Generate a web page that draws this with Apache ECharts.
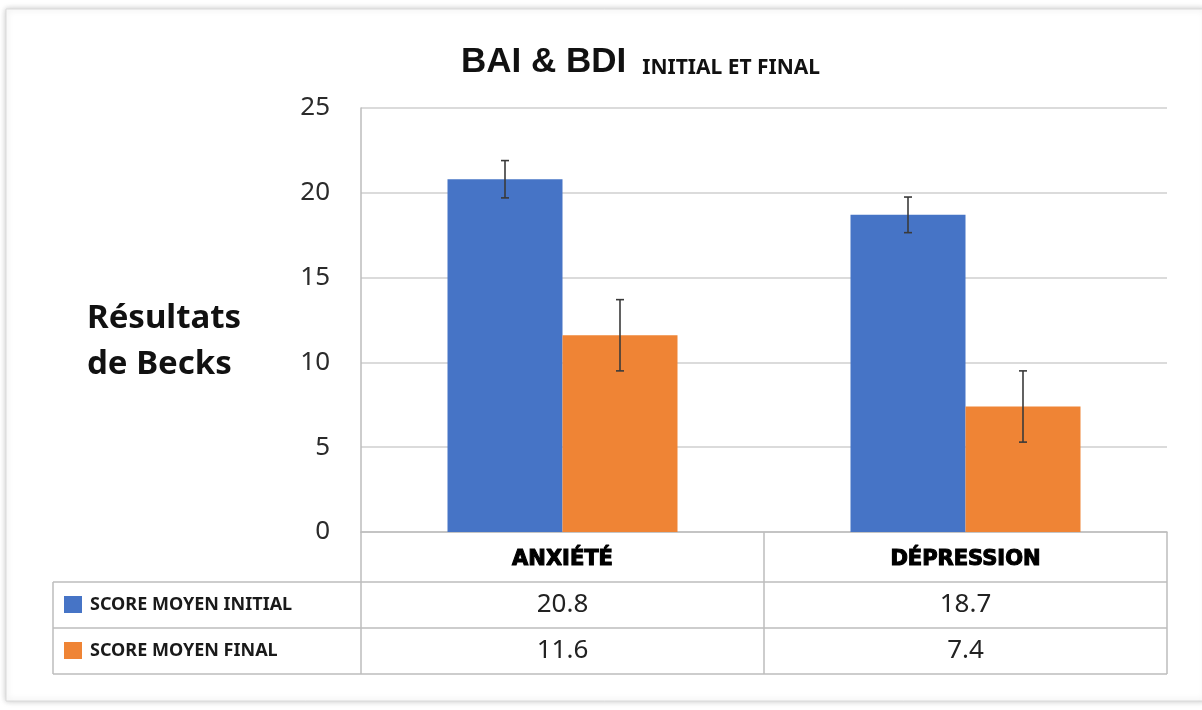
<!DOCTYPE html>
<html>
<head>
<meta charset="utf-8">
<script src="https://cdn.jsdelivr.net/npm/echarts@6/dist/echarts.min.js"></script>
<style>
  html, body { margin: 0; padding: 0; background: #ffffff; }
  #chart { width: 1202px; height: 710px; }
</style>
</head>
<body>
<div id="chart"></div>
<script>
// ---- data ----
const categories = ['ANXIÉTÉ', 'DÉPRESSION'];
const seriesNames = ['SCORE MOYEN INITIAL', 'SCORE MOYEN FINAL'];
const initialScores = [20.8, 18.7];
const finalScores = [11.6, 7.4];
const initialErrors = [1.1, 1.05];
const finalErrors = [2.1, 2.1];
const yMin = 0, yMax = 25, yInterval = 5;

// ---- style constants ----
const BLUE = '#4674C6';
const ORANGE = '#EF8435';
const GRID_LINE = '#cfcfcf';
const TABLE_LINE = '#bdbdbd';
const BAR_W = 115;
const G_LEFT = 361, G_RIGHT = 1167, G_TOP = 108, G_BOTTOM = 532;
const TABLE_LEFT = 53;
const HEAD_H = 50, ROW_H = 46;

const chart = echarts.init(document.getElementById('chart'), null, { renderer: 'canvas' });

function errorSeries(values, errors, sideOffset) {
  return {
    type: 'custom',
    z: 5,
    silent: true,
    data: values.map((v, i) => [i, v, errors[i]]),
    renderItem: function (params, api) {
      const cat = api.value(0), v = api.value(1), e = api.value(2);
      const top = api.coord([cat, v + e]);
      const bot = api.coord([cat, v - e]);
      const x = top[0] + sideOffset;
      const cap = 4;
      const st = { stroke: '#3a3a3a', lineWidth: 1.6 };
      return {
        type: 'group',
        children: [
          { type: 'line', shape: { x1: x, y1: top[1], x2: x, y2: bot[1] }, style: st },
          { type: 'line', shape: { x1: x - cap, y1: top[1], x2: x + cap, y2: top[1] }, style: st },
          { type: 'line', shape: { x1: x - cap, y1: bot[1], x2: x + cap, y2: bot[1] }, style: st }
        ]
      };
    }
  };
}

const option = {
  animation: false,
  title: {
    text: '{a|BAI & BDI}{b|INITIAL ET FINAL}',
    left: 461,
    top: 46,
    padding: 0,
    textStyle: {
      rich: {
        a: { fontFamily: 'Liberation Sans', fontWeight: 'bold', fontSize: 35, lineHeight: 34, color: '#111', verticalAlign: 'bottom' },
        b: { fontFamily: 'Noto Sans', fontWeight: 'bold', fontSize: 21, lineHeight: 21, color: '#111', verticalAlign: 'bottom', padding: [0, 0, 1, 16] }
      }
    }
  },
  grid: { left: G_LEFT, right: 1202 - G_RIGHT, top: G_TOP, bottom: 710 - G_BOTTOM, containLabel: false },
  xAxis: {
    type: 'category',
    data: categories,
    boundaryGap: true,
    axisLine: { show: true, lineStyle: { color: TABLE_LINE, width: 1.5 } },
    axisTick: { show: true, interval: 0, length: HEAD_H + 2 * ROW_H, lineStyle: { color: TABLE_LINE, width: 1.5 } },
    axisLabel: {
      interval: 0,
      margin: 17,
      fontFamily: 'DejaVu Sans',
      fontWeight: 'bold',
      fontSize: 21,
      color: '#000',
      textBorderColor: '#000',
      textBorderWidth: 1.1
    }
  },
  yAxis: {
    type: 'value',
    min: yMin,
    max: yMax,
    interval: yInterval,
    axisLine: { show: true, lineStyle: { color: TABLE_LINE, width: 1.5 } },
    axisTick: { show: false },
    splitLine: { show: true, lineStyle: { color: GRID_LINE, width: 1.5 } },
    axisLabel: { margin: 31, fontFamily: 'Noto Sans', fontSize: 26, color: '#2b2b2b' }
  },
  series: [
    { name: seriesNames[0], type: 'bar', data: initialScores, barWidth: BAR_W, barGap: '0%', itemStyle: { color: BLUE } },
    { name: seriesNames[1], type: 'bar', data: finalScores, barWidth: BAR_W, barGap: '0%', itemStyle: { color: ORANGE } },
    errorSeries(initialScores, initialErrors, -BAR_W / 2),
    errorSeries(finalScores, finalErrors, BAR_W / 2)
  ]
};

chart.setOption(option);

// ---- frame, axis title and data table ----
const rowTops = [G_BOTTOM + HEAD_H, G_BOTTOM + HEAD_H + ROW_H, G_BOTTOM + HEAD_H + 2 * ROW_H];
const rowValues = [initialScores, finalScores];
const rowColors = [BLUE, ORANGE];
const graphics = [];

graphics.push({
  type: 'rect', z: -100, silent: true,
  shape: { x: 6, y: 9, width: 1200, height: 692 },
  style: { fill: '#ffffff', stroke: '#d9d9d9', lineWidth: 1, shadowBlur: 6, shadowColor: 'rgba(0,0,0,0.22)', shadowOffsetX: 0, shadowOffsetY: 0 }
});

graphics.push({
  type: 'text', silent: true,
  style: {
    text: 'Résultats\nde Becks',
    x: 87, y: 296,
    font: 'bold 33px "Noto Sans"',
    lineHeight: 46,
    fill: '#111',
    textAlign: 'left',
    textVerticalAlign: 'top'
  }
});

rowTops.forEach(function (y) {
  graphics.push({ type: 'line', silent: true, shape: { x1: TABLE_LEFT, y1: y, x2: G_RIGHT, y2: y }, style: { stroke: TABLE_LINE, lineWidth: 1.5 } });
});
graphics.push({ type: 'line', silent: true, shape: { x1: TABLE_LEFT, y1: rowTops[0], x2: TABLE_LEFT, y2: rowTops[2] }, style: { stroke: TABLE_LINE, lineWidth: 1.5 } });

for (let r = 0; r < 2; r++) {
  const cy = rowTops[r] + ROW_H / 2;
  graphics.push({ type: 'rect', silent: true, shape: { x: 64, y: cy - 9, width: 18, height: 17 }, style: { fill: rowColors[r] } });
  graphics.push({
    type: 'text', silent: true,
    style: { text: seriesNames[r], x: 90, y: cy, font: 'bold 18px "Noto Sans"', fill: '#1a1a1a', textAlign: 'left', textVerticalAlign: 'middle' }
  });
  for (let c = 0; c < categories.length; c++) {
    const px = chart.convertToPixel({ xAxisIndex: 0 }, categories[c]);
    graphics.push({
      type: 'text', silent: true,
      style: { text: String(rowValues[r][c]), x: px, y: cy, font: '26px "Noto Sans"', fill: '#222', textAlign: 'center', textVerticalAlign: 'middle' }
    });
  }
}

chart.setOption({ graphic: graphics });
</script>
</body>
</html>
